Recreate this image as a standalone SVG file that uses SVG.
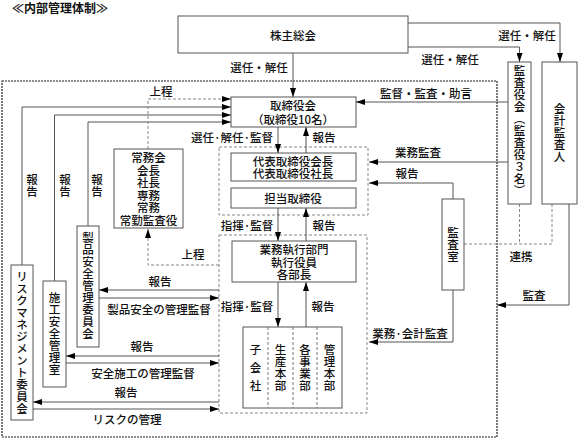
<svg xmlns="http://www.w3.org/2000/svg" width="579" height="441" viewBox="0 0 579 441">
<style>
text{font-family:"Noto Sans CJK JP","Noto Sans CJK SC",sans-serif;font-size:11.5px;font-weight:500;fill:#111;}
.c{text-anchor:middle;dominant-baseline:central;}
.v{writing-mode:vertical-rl;letter-spacing:0.5px;}
.box{fill:#fff;stroke:#555;stroke-width:1;}
.grp{fill:none;stroke:#888;stroke-width:1;stroke-dasharray:3,2;}
.outer{fill:none;stroke:#222;stroke-width:1.2;stroke-dasharray:2,1;}
.ln{fill:none;stroke:#555;stroke-width:1;}
.arr{marker-end:url(#a);}
.dl{fill:none;stroke:#888;stroke-width:1;stroke-dasharray:3,2;}
.div{stroke:#777;stroke-width:1;stroke-dasharray:3,2;}
</style>
<defs>
<marker id="a" markerWidth="9" markerHeight="6" refX="9" refY="3" orient="auto" markerUnits="userSpaceOnUse"><path d="M0,0L9,3L0,6z" fill="#000"/></marker>
</defs>
<rect width="579" height="441" fill="#fff"/>
<text x="12" y="7" style="dominant-baseline:central;font-size:12px;font-weight:bold">≪内部管理体制≫</text>

<rect class="outer" x="2" y="81" width="495" height="356"/>

<g id="groups">
<rect id="grp-daihyo" class="grp" x="219" y="147" width="149" height="68"/>
<rect id="grp-gyomu" class="grp" x="219" y="235" width="148" height="178"/>
</g>

<g id="connectors">
<path class="ln arr" d="M293,53V97"/>
<path class="ln arr" d="M408,23H560V62"/>
<path class="ln arr" d="M408,47H519.5V62"/>
<path class="ln arr" d="M508,102H356"/>
<path class="ln arr" d="M22,265V107H231"/>
<path class="ln arr" d="M54.5,281V115H231"/>
<path class="ln arr" d="M88,226V122H231"/>
<path class="dl arr" d="M148,149V99H231"/>
<path class="dl arr" d="M219,265H148V229"/>
<path class="ln arr" d="M278,127V153"/>
<path class="ln arr" d="M306,153V127"/>
<path class="ln arr" d="M278,208V241"/>
<path class="ln arr" d="M306,241V208"/>
<path class="ln arr" d="M278,282V327"/>
<path class="ln arr" d="M306,327V282"/>
<path class="ln arr" d="M508,162H369"/>
<path class="ln arr" d="M453,199V183H369"/>
<path class="ln arr" d="M453,290V342H369"/>
<path class="dl" d="M464,244H552M519.5,204V244M552,204V244"/>
<path class="ln arr" d="M569,204V305H497"/>
<path class="ln arr" d="M219,290H99"/>
<path class="ln arr" d="M99,298H219"/>
<path class="ln arr" d="M219,356H66"/>
<path class="ln arr" d="M66,363H219"/>
<path class="ln arr" d="M219,402H33"/>
<path class="ln arr" d="M33,409H219"/>
</g>

<g id="labels">
<text class="c" x="259" y="67">選任・解任</text>
<text class="c" x="527" y="35">選任・解任</text>
<text class="c" x="450" y="59">選任・解任</text>
<text class="c" x="161" y="91">上程</text>
<text class="c" x="426" y="93">監督・監査・助言</text>
<text class="c" x="232" y="137">選任·解任·監督</text>
<text class="c" x="324" y="137">報告</text>
<text class="c" x="247" y="225">指揮·監督</text>
<text class="c" x="324" y="225">報告</text>
<text class="c" x="418" y="152">業務監査</text>
<text class="c" x="407" y="173">報告</text>
<text class="v" x="32" y="174">報告</text>
<text class="v" x="65" y="174">報告</text>
<text class="v" x="97" y="174">報告</text>
<text class="c" x="193" y="254">上程</text>
<text class="c" x="521" y="256">連携</text>
<text class="c" x="160" y="281">報告</text>
<text class="c" x="159" y="309">製品安全の管理監督</text>
<text class="c" x="247" y="306">指揮·監督</text>
<text class="c" x="323" y="306">報告</text>
<text class="c" x="534" y="295">監査</text>
<text class="c" x="410" y="333">業務·会計監査</text>
<text class="c" x="142" y="346">報告</text>
<text class="c" x="143" y="373">安全施工の管理監督</text>
<text class="c" x="126" y="392">報告</text>
<text class="c" x="127" y="419">リスクの管理</text>
</g>

<g id="kabunushi">
<rect class="box" x="178" y="16" width="230" height="37"/>
<text class="c" x="293" y="35">株主総会</text>
</g>

<g id="kansayakukai">
<rect class="box" x="508" y="62" width="23" height="142"/>
<text class="v" x="519.5" y="65">監査役会（監査役３名）</text>
</g>

<g id="kaikei">
<rect class="box" x="542" y="62" width="35" height="142"/>
<text class="v" x="559.5" y="103">会計監査人</text>
</g>

<g id="torishimariyakukai">
<rect class="box" x="231" y="97" width="125" height="30"/>
<text class="c" x="293" y="105">取締役会</text>
<text class="c" x="293" y="119">（取締役10名）</text>
</g>

<g id="jomukai">
<rect class="box" x="114" y="149" width="69" height="79"/>
<text class="c" x="148.5" y="157">常務会</text>
<text class="c" x="148.5" y="169.5">会長</text>
<text class="c" x="148.5" y="182">社長</text>
<text class="c" x="148.5" y="194.5">専務</text>
<text class="c" x="148.5" y="207">常務</text>
<text class="c" x="148.5" y="219.5">常勤監査役</text>
</g>

<g id="daihyo">
<rect class="box" x="231" y="153" width="125" height="28"/>
<text class="c" x="293" y="161">代表取締役会長</text>
<text class="c" x="293" y="173">代表取締役社長</text>
</g>

<g id="tanto">
<rect class="box" x="231" y="188" width="125" height="20"/>
<text class="c" x="293" y="198">担当取締役</text>
</g>

<g id="gyomu">
<rect class="box" x="232" y="241" width="124" height="41"/>
<text class="c" x="294" y="249">業務執行部門</text>
<text class="c" x="294" y="262">執行役員</text>
<text class="c" x="294" y="274">各部長</text>
</g>

<g id="kogaisha">
<rect class="box" x="243" y="327" width="99" height="81"/>
<line class="div" x1="268" y1="327" x2="268" y2="408"/>
<line class="div" x1="293" y1="327" x2="293" y2="408"/>
<line class="div" x1="317" y1="327" x2="317" y2="408"/>
<text class="v" x="255.5" y="344" style="letter-spacing:6.5px">子会社</text>
<text class="v" x="280.5" y="344">生産本部</text>
<text class="v" x="305" y="344">各事業部</text>
<text class="v" x="329.5" y="344">管理本部</text>
</g>

<g id="kansashitsu">
<rect class="box" x="442" y="199" width="22" height="91"/>
<text class="v" x="453" y="227">監査室</text>
</g>

<g id="seihin">
<rect class="box" x="77" y="226" width="22" height="121"/>
<text class="v" x="88" y="232">製品安全管理委員会</text>
</g>

<g id="seko">
<rect class="box" x="43" y="281" width="23" height="106"/>
<text class="v" x="54.5" y="292">施工安全管理室</text>
</g>

<g id="risk">
<rect class="box" x="11" y="265" width="22" height="155"/>
<text class="v" x="22" y="271">リスクマネジメント委員会</text>
</g>
</svg>
